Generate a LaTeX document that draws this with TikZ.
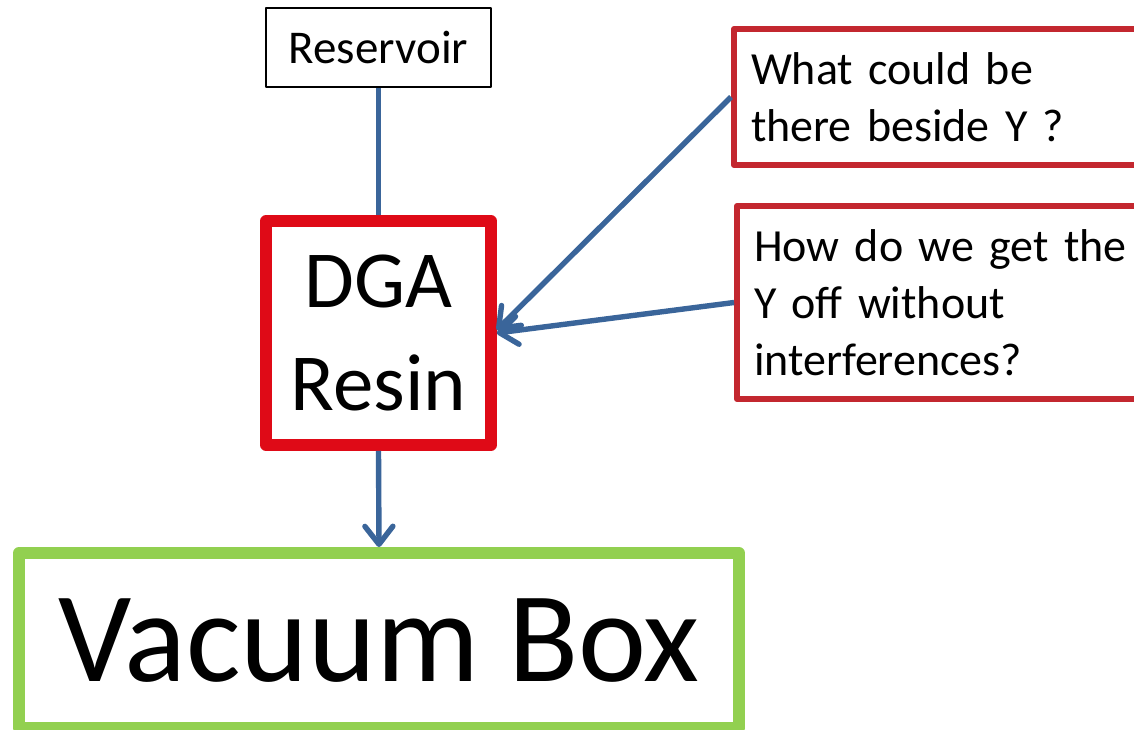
\documentclass[tikz,border=0pt]{standalone}
\usepackage{fontspec}
\setmainfont{Carlito}
\usetikzlibrary{arrows.meta}
\definecolor{linkblue}{HTML}{3A659A}
\definecolor{resinred}{HTML}{DF0A17}
\definecolor{askred}{HTML}{C3272F}
\definecolor{boxgreen}{HTML}{92D050}
\tikzset{
  box/.style={draw, inner sep=0pt, line join=round, fill=white},
  link/.style={draw=linkblue, line width=2.7pt},
  linkarrow/.style={link, -{Straight Barb[length=9pt,width=14pt,line cap=round,line join=round]}},
  askbox/.style={box, draw=askred, line width=3pt, anchor=north west, align=left,
    text width=200pt, inner xsep=8.5pt, font=\fontsize{23}{28.5}\selectfont},
}
\begin{document}
\begin{tikzpicture}[x=0.5pt,y=-0.5pt]
\useasboundingbox (0,0) rectangle (1134,729);
\fill[white] (0,0) rectangle (1134,729);

% column of boxes
\node[box, draw=black, line width=0.75pt, minimum width=112.5pt, minimum height=39.5pt,
  font=\fontsize{23.5}{28.5}\selectfont] (res) at (378.5,47.5) {Reservoir};
\node[box, draw=resinred, line width=5.75pt, minimum width=112.5pt, minimum height=112pt,
  align=center, font=\fontsize{40.5}{51.5}\selectfont] (dga) at (378.5,333) {DGA\\Resin};
\node[box, draw=boxgreen, line width=6pt, minimum width=360pt, minimum height=87.5pt,
  font=\fontsize{64.5}{76}\selectfont] (vac) at (379,640.5) {Vacuum Box};

% question boxes on the right
\node[askbox, minimum height=68pt] (q1) at (731,26) {What could be\\there beside Y ?};
\node[askbox, minimum height=96.5pt] (q2) at (734,203) {How do we get the\\Y off without\\interferences?};

% connectors
\draw[link] (res.south) -- (dga.north);
\draw[linkarrow] (dga.south) -- (vac.north);
\draw[linkarrow] (q1.west) -- ([yshift=1.5pt]dga.east);
\draw[linkarrow] (q2.west) -- ([yshift=0pt]dga.east);
\end{tikzpicture}
\end{document}
